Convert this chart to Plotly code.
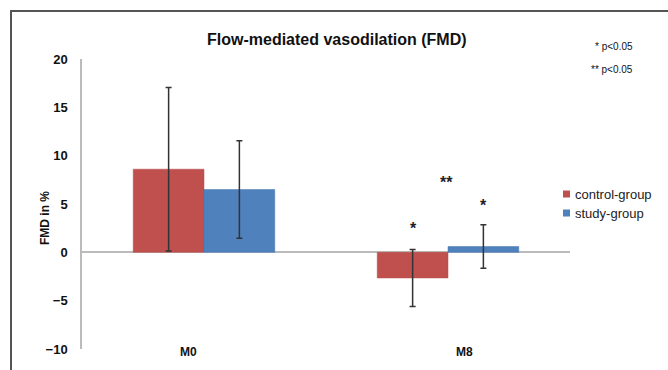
import plotly.graph_objects as go

categories = ["M0", "M8"]
series_names = ["control-group", "study-group"]
control_vals = [8.6, -2.65]
control_err = [8.45, 2.95]
study_vals = [6.5, 0.6]
study_err = [5.05, 2.25]
yticks = [-10, -5, 0, 5, 10, 15, 20]

FONT = "Liberation Sans, Arial, sans-serif"
RED = "#C0504D"
BLUE = "#4F81BD"

fig = go.Figure()
fig.add_trace(go.Bar(
    x=categories, y=control_vals, name=series_names[0],
    marker=dict(color=RED, line=dict(color="#B54A47", width=0.5)),
    error_y=dict(type="data", array=control_err, color="#333333", thickness=1.5, width=3),
))
fig.add_trace(go.Bar(
    x=categories, y=study_vals, name=series_names[1],
    marker=dict(color=BLUE, line=dict(color="#4677B0", width=0.5)),
    error_y=dict(type="data", array=study_err, color="#333333", thickness=1.5, width=3),
))

def px2x(px):
    return (px - 82) / 488.0

def px2y(py):
    return (349 - py) / 290.0

shapes = [
    dict(type="line", xref="paper", yref="paper", x0=px2x(10), x1=px2x(668), y0=px2y(11), y1=px2y(11),
         line=dict(color="#555555", width=2)),
    dict(type="line", xref="paper", yref="paper", x0=px2x(11), x1=px2x(11), y0=px2y(11), y1=px2y(372),
         line=dict(color="#555555", width=2)),
]

def ann(text, x, y, size, **kw):
    d = dict(text=text, xref="paper", yref="paper", x=px2x(x), y=px2y(y),
             xanchor="center", yanchor="middle", showarrow=False,
             font=dict(family=FONT, size=size, color="#111111"))
    d.update(kw)
    return d

annotations = [
    ann("<b>Flow-mediated vasodilation (FMD)</b>", 337, 40, 16),
    ann("* p&lt;0.05", 614, 47, 10),
    ann("** p&lt;0.05", 612, 70, 10),
    ann("<b>FMD in %</b>", 45, 218, 12, textangle=-90),
]
# custom legend
for name, color, cy in zip(series_names, [RED, BLUE], [194, 213]):
    shapes.append(dict(type="rect", xref="paper", yref="paper",
                       x0=px2x(563), x1=px2x(570), y0=px2y(cy - 3.5), y1=px2y(cy + 3.5),
                       fillcolor=color, line=dict(width=0)))
    annotations.append(ann(name, 573, cy, 13, xanchor="left", font=dict(family=FONT, size=13, color="#222222")))

for text, yv, shift in [("<b>*</b>", 2.7, -35), ("<b>**</b>", 7.45, -2), ("<b>*</b>", 5.07, 35)]:
    annotations.append(dict(text=text, x="M8", y=yv, xshift=shift, yshift=-2, showarrow=False,
                            xanchor="center", yanchor="middle",
                            font=dict(family=FONT, size=16, color="#222222")))

for cat, px in zip(categories, [188, 464]):
    annotations.append(ann(f"<b>{cat}</b>", px, 352, 12))

fig.update_layout(
    width=668, height=370,
    margin=dict(l=82, r=98, t=59, b=21, autoexpand=False),
    paper_bgcolor="white", plot_bgcolor="white",
    barmode="group", bargap=0.42, bargroupgap=0,
    showlegend=False,
    shapes=shapes,
    annotations=annotations,
    font=dict(family=FONT),
)
fig.update_xaxes(showticklabels=False, showline=False, showgrid=False, zeroline=False,
                 range=[-0.5, 1.5])
fig.update_yaxes(range=[-10, 20], tickvals=yticks, showgrid=False,
                 zeroline=True, zerolinecolor="#BBBBBB", zerolinewidth=1.5,
                 showline=True, linecolor="#BBBBBB", linewidth=1.5,
                 ticks="", ticklabelstandoff=10,
                 tickfont=dict(family=FONT, size=13, color="#111111", weight="bold"))

fig.write_html("out.html")
